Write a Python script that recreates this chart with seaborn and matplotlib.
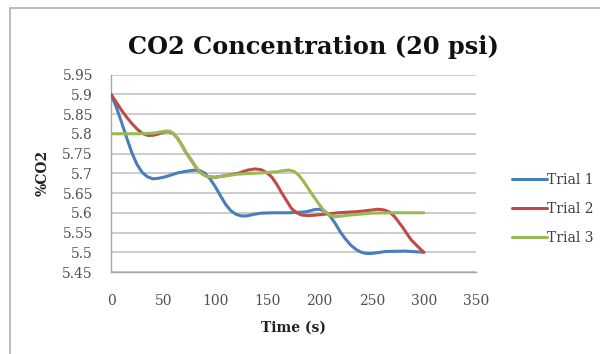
import matplotlib
matplotlib.use("Agg")
import matplotlib.pyplot as plt
from matplotlib.patches import Rectangle
from matplotlib.lines import Line2D
import seaborn as sns
import pandas as pd

# ---- data ----
t1_time = [0, 5, 10, 15, 20, 25, 30, 35, 40, 45, 52, 64, 72, 80, 86, 90, 95, 100, 105, 110, 115, 120, 125, 130, 137, 144,
           157, 170, 186, 191, 195, 200, 205, 210, 215, 220, 225, 230, 235, 240, 245, 250, 256, 263, 282, 300]
t1_co2 = [5.9, 5.868, 5.83, 5.79, 5.752, 5.722, 5.702, 5.691, 5.686, 5.687, 5.691, 5.701, 5.705, 5.708, 5.706, 5.700, 5.686, 5.666, 5.643, 5.621, 5.605, 5.596, 5.592, 5.592, 5.596, 5.599,
          5.600, 5.600, 5.602, 5.605, 5.608, 5.609, 5.604, 5.592, 5.573, 5.551, 5.533, 5.518, 5.507, 5.500, 5.497, 5.497, 5.499, 5.502, 5.503, 5.500]

t2_time = [0, 5, 10, 15, 20, 25, 30, 35, 40, 45, 50, 55, 60, 64, 68, 72, 77, 81, 85, 89, 93, 100, 110, 122, 131, 138, 144, 149, 154, 159, 164,
           169, 173, 178, 183, 190, 196, 218, 237, 250, 256, 262, 267, 272, 276, 280, 284, 288, 294, 300]
t2_co2 = [5.9, 5.88, 5.86, 5.842, 5.826, 5.812, 5.801, 5.796, 5.796, 5.799, 5.804, 5.806, 5.800, 5.788, 5.771, 5.752, 5.733, 5.717, 5.704, 5.696, 5.691, 5.690, 5.694, 5.700, 5.708, 5.711, 5.709, 5.702, 5.691, 5.672, 5.649,
          5.628, 5.611, 5.600, 5.594, 5.593, 5.594, 5.600, 5.603, 5.607, 5.609, 5.607, 5.602, 5.590, 5.576, 5.562, 5.546, 5.531, 5.515, 5.500]

t3_time = [0, 28, 36, 42, 48, 53, 57, 60, 64, 68, 72, 77, 81, 85, 89, 93, 100, 122, 145, 160, 166, 171, 176, 180, 184, 188, 192, 196, 200, 205,
           210, 215, 222, 228, 250, 270, 300]
t3_co2 = [5.8, 5.800, 5.801, 5.802, 5.805, 5.807, 5.806, 5.800, 5.788, 5.771, 5.752, 5.733, 5.717, 5.704, 5.696, 5.691, 5.690, 5.698, 5.701, 5.704, 5.707, 5.708, 5.704, 5.695, 5.682, 5.666, 5.650, 5.635, 5.620, 5.603,
          5.594, 5.590, 5.592, 5.594, 5.599, 5.600, 5.600]

series_names = ["Trial 1", "Trial 2", "Trial 3"]
x_ticks = [0, 50, 100, 150, 200, 250, 300, 350]
y_ticks = [5.45, 5.5, 5.55, 5.6, 5.65, 5.7, 5.75, 5.8, 5.85, 5.9, 5.95]
y_tick_labels = ["5.45", "5.5", "5.55", "5.6", "5.65", "5.7", "5.75", "5.8", "5.85", "5.9", "5.95"]
colors = ["#4A7EBB", "#BE4B48", "#98B954"]

frames = []
for name, tt, cc in zip(series_names, [t1_time, t2_time, t3_time], [t1_co2, t2_co2, t3_co2]):
    frames.append(pd.DataFrame({"Time": tt, "CO2": cc, "Series": name}))
df = pd.concat(frames, ignore_index=True)

sns.set_style("white")
plt.rcParams["font.family"] = ["DejaVu Serif", "DejaVu Sans"]

fig = plt.figure(figsize=(6.0, 3.54), dpi=100)
ax = fig.add_axes([0.185, 0.2316, 0.6083, 0.5579])

sns.lineplot(data=df, x="Time", y="CO2", hue="Series", palette=colors,
             linewidth=2.2, sort=False, estimator=None, ax=ax, legend=False, zorder=3)
for ln in ax.get_lines():
    ln.set_solid_joinstyle("round")
    ln.set_solid_capstyle("round")

ax.set_xlim(0, 350)
ax.set_ylim(5.45, 5.95)
ax.set_xticks(x_ticks)
ax.set_xticklabels([str(v) for v in x_ticks])
ax.set_yticks(y_ticks)
ax.set_yticklabels(y_tick_labels)
ax.yaxis.grid(True, color="#C8C8C8", linewidth=1.3)
ax.xaxis.grid(False)
for s in ["top", "right"]:
    ax.spines[s].set_visible(False)
for s in ["left", "bottom"]:
    ax.spines[s].set_color("#A6A6A6")
    ax.spines[s].set_linewidth(1.0)
ax.tick_params(axis="both", which="major", length=4, width=1.0, color="#A6A6A6",
               labelsize=10, labelcolor="#505050", direction="out")
ax.tick_params(axis="y", pad=9)
ax.tick_params(axis="x", pad=12)

ax.set_xlabel("Time (s)", fontsize=10, fontweight="bold", color="#222222", labelpad=9)
ax.set_ylabel("%CO2", fontsize=10, fontweight="bold", color="#222222", labelpad=9)

fig.text(0.5225, 0.867, "CO2 Concentration (20 psi)", ha="center", va="center",
         fontsize=17.3, fontweight="bold", color="#111111")

# legend
handles = [Line2D([0], [0], color=c, linewidth=2.2) for c in colors]
fig.legend(handles, series_names, loc="center left", bbox_to_anchor=(0.853, 0.41),
           frameon=False, fontsize=10, handlelength=2.5, handletextpad=0.0,
           labelspacing=1.07, labelcolor="#404040", borderaxespad=0, borderpad=0)

# outer chart frame
fig.patches.append(Rectangle((10 / 600, -0.1), 1.2, 1 - 8 / 354 + 0.1,
                             transform=fig.transFigure, fill=False,
                             edgecolor="#B0B0B0", linewidth=1.2))

fig.savefig("out.png", dpi=100)
